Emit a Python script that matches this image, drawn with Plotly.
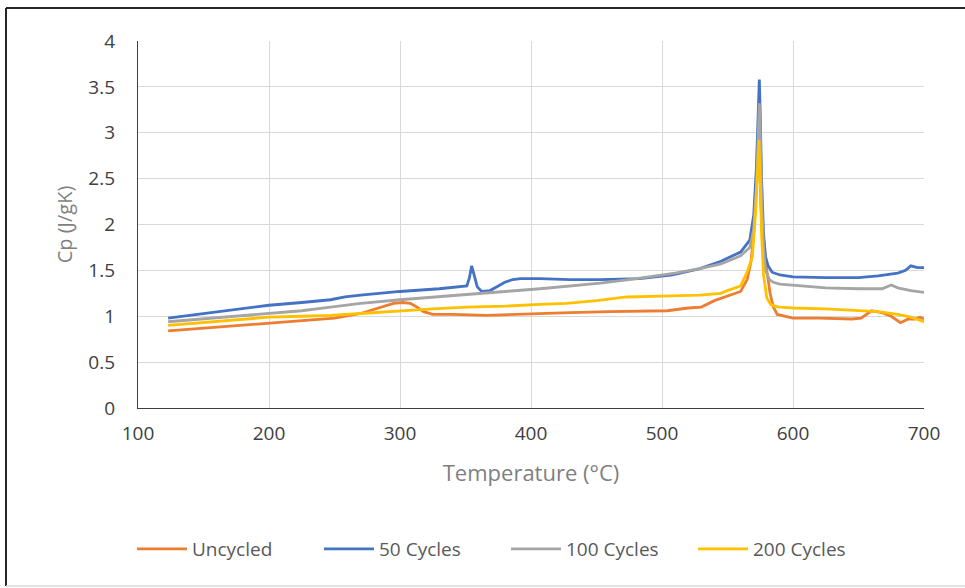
import plotly.graph_objects as go

# ---- data ----
unc_x = [123, 150, 175, 200, 225, 250, 270, 285, 295, 302, 308, 313, 318, 325, 340, 366, 400, 430, 460,
         490, 504, 520, 530, 540, 550, 560, 565, 568, 570, 572, 573.5, 574.5, 575.5, 577, 580, 582.5, 585,
         588, 595, 600, 620, 645, 652, 660, 668, 675, 682, 688, 693, 697, 700]
unc_y = [0.84, 0.87, 0.90, 0.92, 0.95, 0.98, 1.03, 1.10, 1.14, 1.15, 1.14, 1.10, 1.05, 1.02, 1.02, 1.01,
         1.03, 1.04, 1.05, 1.06, 1.06, 1.09, 1.10, 1.17, 1.22, 1.27, 1.40, 1.60, 1.90, 2.40, 2.75, 2.70,
         2.20, 1.90, 1.50, 1.25, 1.10, 1.02, 1.00, 0.98, 0.98, 0.97, 0.98, 1.06, 1.04, 1.00, 0.93, 0.97,
         0.97, 0.99, 0.97]

c50_x = [123, 150, 175, 200, 225, 247, 258, 270, 300, 330, 351, 353, 354.7, 356.5, 359, 362.4, 368.7, 375,
         380, 386, 392, 407, 430, 453, 483, 508, 529, 545, 560, 567, 570, 572, 573.5, 574.3, 575, 576,
         577.5, 579, 581, 584, 590, 600, 625, 650, 665, 680, 686, 690, 695, 700]
c50_y = [0.98, 1.03, 1.08, 1.12, 1.15, 1.18, 1.21, 1.23, 1.27, 1.30, 1.33, 1.42, 1.55, 1.45, 1.32, 1.27,
         1.28, 1.33, 1.37, 1.40, 1.41, 1.41, 1.40, 1.40, 1.41, 1.45, 1.52, 1.60, 1.70, 1.83, 2.10, 2.60,
         3.30, 3.58, 3.20, 2.50, 1.90, 1.65, 1.55, 1.48, 1.45, 1.43, 1.42, 1.42, 1.44, 1.47, 1.50, 1.55,
         1.53, 1.53]

c100_x = [123, 150, 175, 200, 225, 247, 270, 300, 325, 351, 380, 407, 430, 453, 475, 491, 510, 529, 545,
          560, 567, 570, 572, 573.5, 574.3, 575, 576, 577.5, 579, 582, 585, 590, 600, 625, 650, 668, 675,
          680, 690, 700]
c100_y = [0.94, 0.97, 1.00, 1.03, 1.06, 1.10, 1.14, 1.18, 1.21, 1.24, 1.27, 1.30, 1.33, 1.36, 1.40, 1.43,
          1.47, 1.52, 1.57, 1.66, 1.75, 1.95, 2.40, 3.00, 3.32, 3.00, 2.30, 1.75, 1.50, 1.40, 1.37, 1.35,
          1.34, 1.31, 1.30, 1.30, 1.34, 1.31, 1.28, 1.26]

c200_x = [123, 150, 175, 200, 225, 247, 270, 300, 325, 351, 380, 407, 427, 450, 473, 500, 529, 545, 550,
          560, 565, 569, 571.7, 573, 574, 575, 576, 577.5, 580, 583, 586, 590, 600, 625, 650, 665, 680,
          690, 700]
c200_y = [0.90, 0.93, 0.96, 0.99, 1.00, 1.01, 1.03, 1.06, 1.08, 1.10, 1.11, 1.13, 1.14, 1.17, 1.21, 1.22,
          1.23, 1.25, 1.28, 1.33, 1.48, 1.65, 2.20, 2.60, 2.92, 2.50, 1.90, 1.45, 1.20, 1.13, 1.11, 1.10,
          1.09, 1.08, 1.06, 1.05, 1.02, 0.99, 0.94]

names = ["Uncycled", "50 Cycles", "100 Cycles", "200 Cycles"]
colors = ["#ED7D31", "#4472C4", "#A5A5A5", "#FFC000"]
x_ticks = [100, 200, 300, 400, 500, 600, 700]
y_ticks = [0, 0.5, 1, 1.5, 2, 2.5, 3, 3.5, 4]
y_tick_text = ["0", "0.5", "1", "1.5", "2", "2.5", "3", "3.5", "4"]

series = [(unc_x, unc_y), (c50_x, c50_y), (c100_x, c100_y), (c200_x, c200_y)]

FONT = "Open Sans"
fig = go.Figure()
for (xs, ys), n, c in zip(series, names, colors):
    fig.add_trace(go.Scatter(x=xs, y=ys, mode="lines", name=n,
                             line=dict(color=c, width=2.8)))

W, H = 965, 588
L, R, T, B = 138, 41, 41, 180
pw, ph = W - L - R, H - T - B

def px(xp):
    return (xp - L) / pw

def py(yp):
    return (H - B - yp) / ph

fig.update_layout(
    width=W, height=H,
    margin=dict(l=L, r=R, t=T, b=B),
    paper_bgcolor="white", plot_bgcolor="white",
    font=dict(family=FONT, color="#595959"),
    showlegend=True,
    legend=dict(orientation="h", x=px(506), xanchor="center", y=py(549), yanchor="middle",
                font=dict(size=19, color="#595959"), itemwidth=50,
                entrywidth=122, entrywidthmode="pixels",
                bgcolor="rgba(0,0,0,0)"),
    xaxis=dict(range=[100, 700], tickvals=x_ticks, showgrid=True, gridcolor="#d9d9d9", gridwidth=1,
               showline=True, linecolor="#404040", linewidth=1.3, zeroline=False,
               tickfont=dict(size=19, color="#404040"), ticklabelstandoff=8,
               title=dict(text="Temperature (°C)", font=dict(size=22, color="#7f7f7f"), standoff=20)),
    yaxis=dict(range=[0, 4], tickvals=y_ticks, ticktext=y_tick_text, showgrid=True, gridcolor="#d9d9d9",
               gridwidth=1, showline=True, linecolor="#404040", linewidth=1.3, zeroline=False,
               tickfont=dict(size=19, color="#404040"), ticklabelstandoff=18,
               title=dict(text="Cp (J/gK)", font=dict(size=20, color="#7f7f7f"), standoff=10)),
    shapes=[
        dict(type="line", xref="paper", yref="paper", x0=px(6), x1=px(W + 5), y0=py(8), y1=py(8),
             line=dict(color="#262626", width=2)),
        dict(type="line", xref="paper", yref="paper", x0=px(6), x1=px(6), y0=py(8), y1=py(586),
             line=dict(color="#262626", width=2)),
        dict(type="line", xref="paper", yref="paper", x0=px(6), x1=px(W + 5), y0=py(586), y1=py(586),
             line=dict(color="#d9d9d9", width=1.5)),
    ],
)

fig.write_html("out.html", config={"displayModeBar": False},
               post_script="document.body.style.margin='0';document.body.style.overflow='hidden';")
